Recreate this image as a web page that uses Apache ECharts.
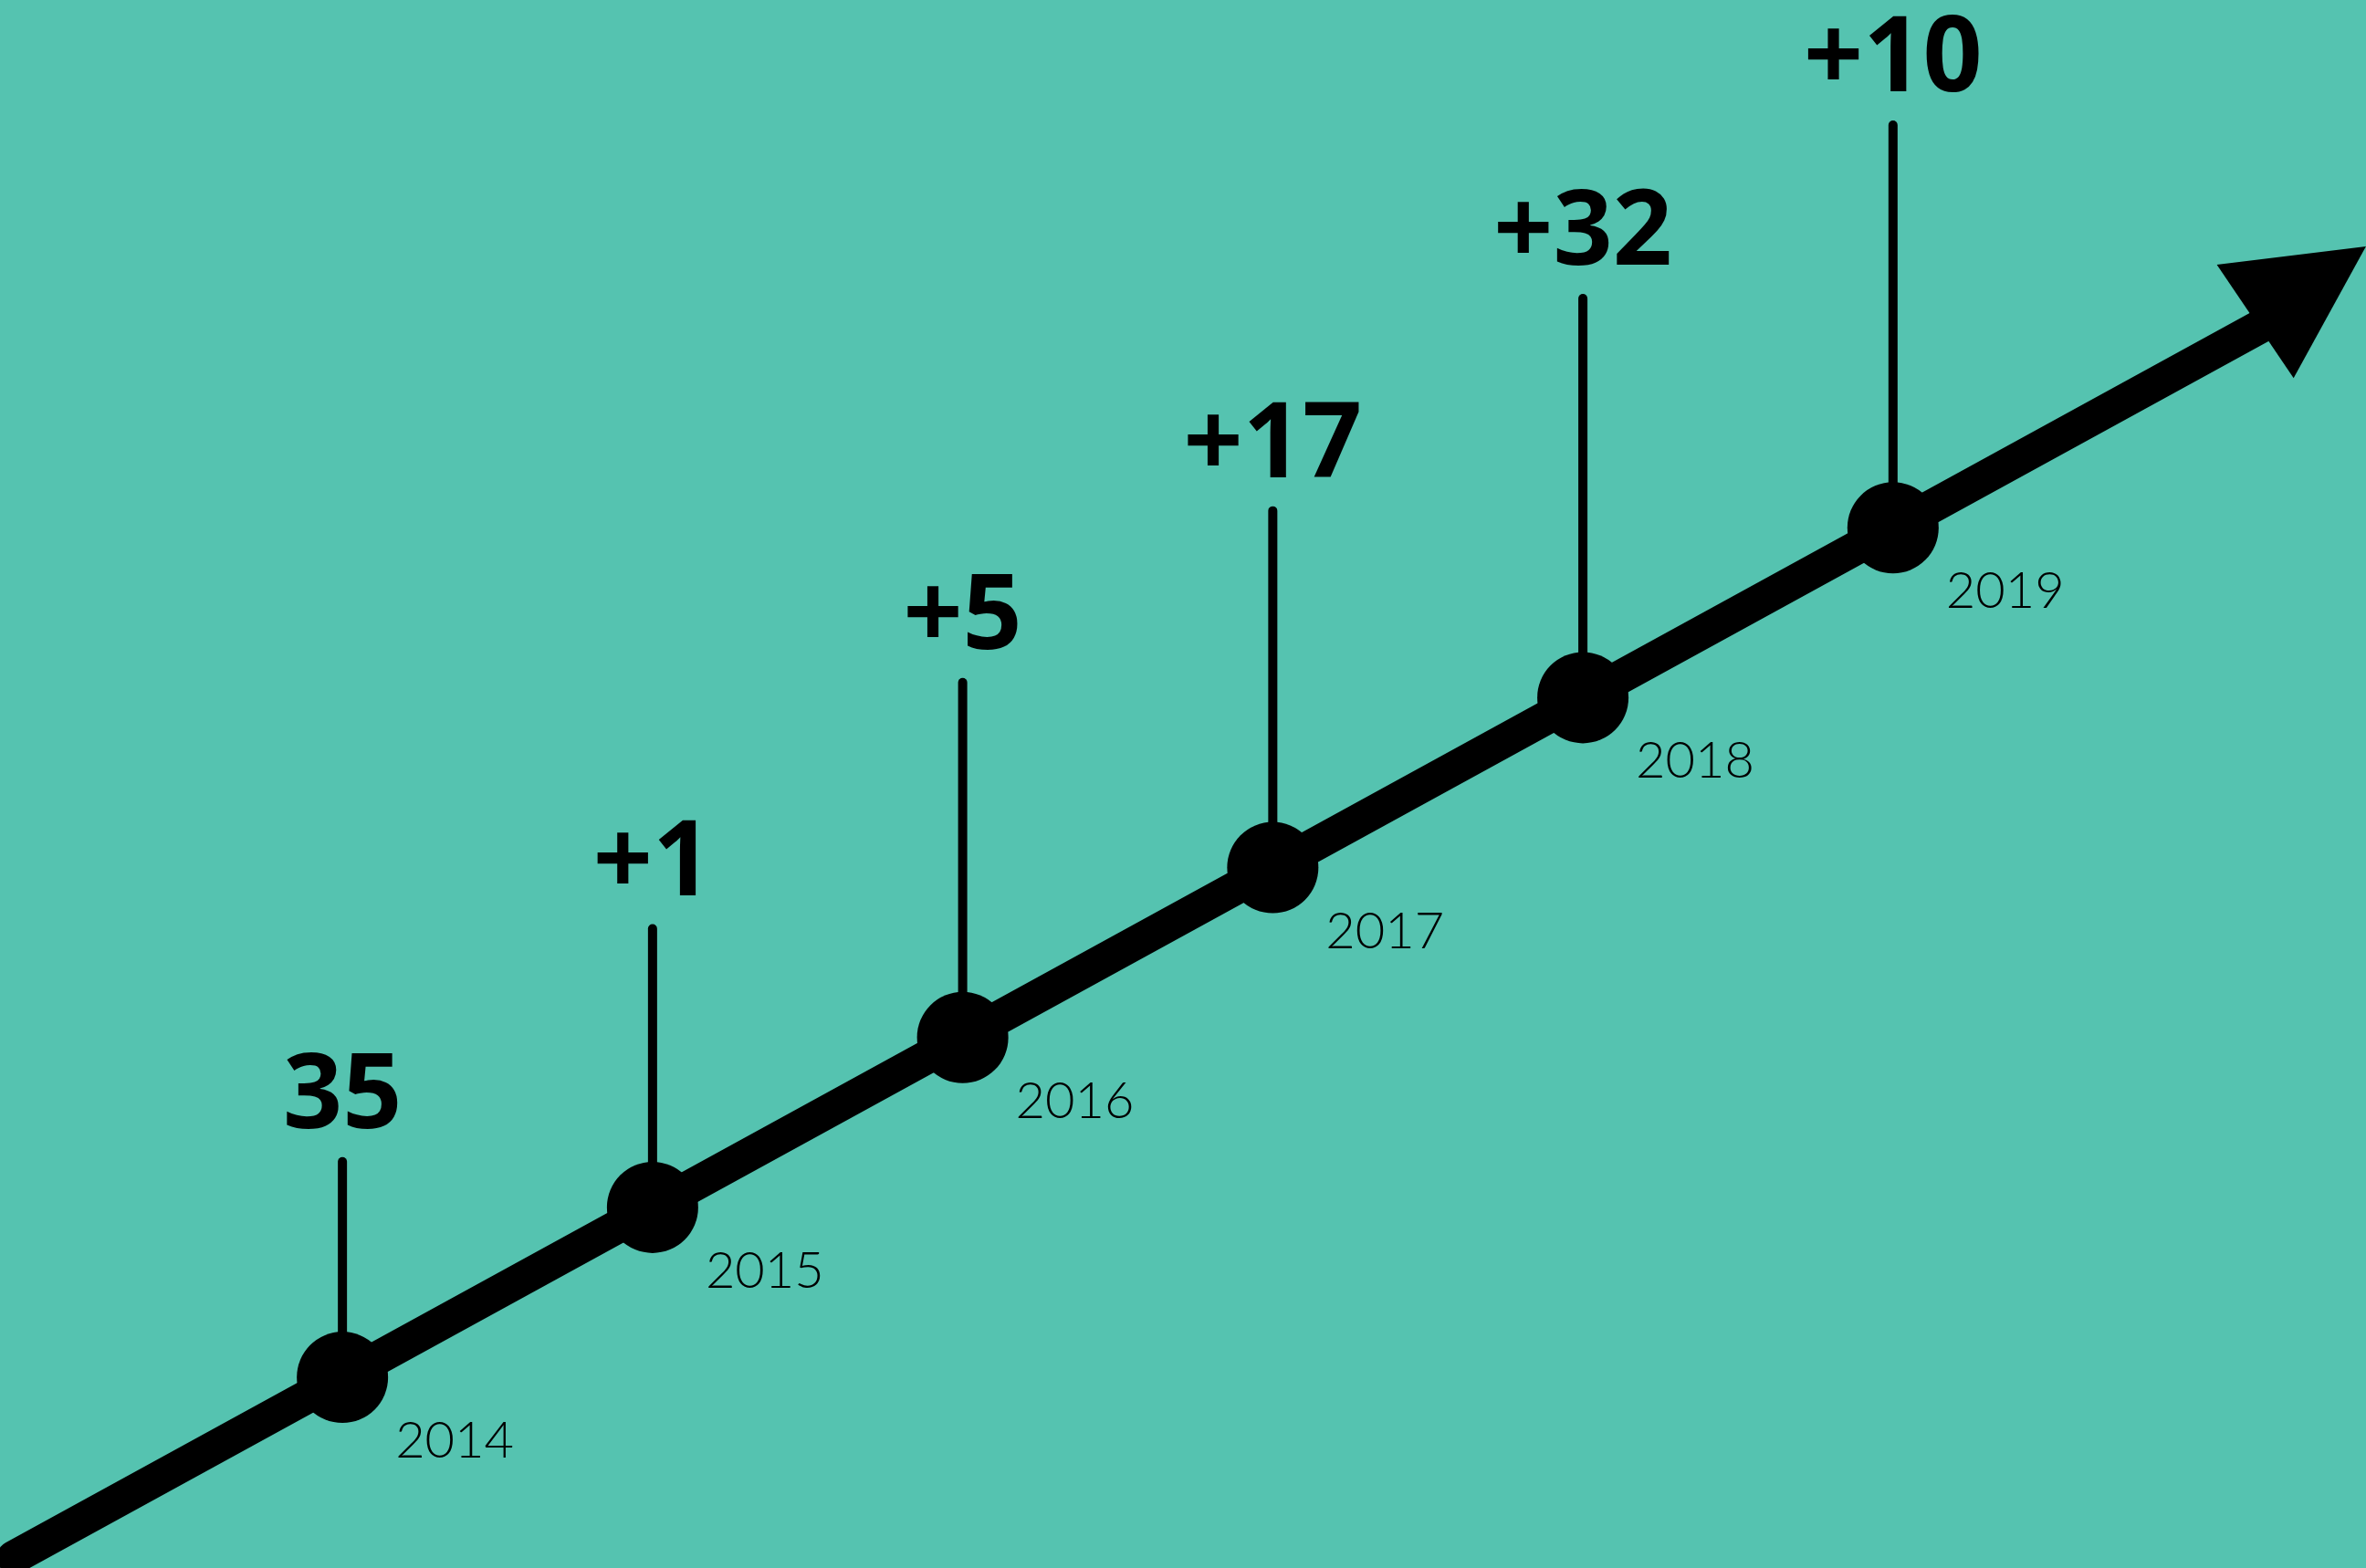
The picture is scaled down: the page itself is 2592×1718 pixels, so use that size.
<!DOCTYPE html>
<html><head><meta charset="utf-8">
<script src="https://cdn.jsdelivr.net/npm/echarts@6/dist/echarts.min.js"></script>
<style>html,body{margin:0;padding:0;background:#55c3b0}#c{width:2592px;height:1718px}</style>
</head><body><div id="c"></div>
<script>
// ---- data ----
const years = [2014, 2015, 2016, 2017, 2018, 2019];
const changeLabels = ['35', '+1', '+5', '+17', '+32', '+10'];
const dotLevel = [0, 1, 2, 3, 4, 5];
const stemTopLevel = [1.27, 2.64, 4.09, 5.10, 6.35, 7.37];
const timelineYears = [2012.94, 2020.25];
const timelineLevels = [-1.06, 6.25];
const arrowBase = [2020.168, 6.215];
const arrowTip = [2020.525, 6.656];

const chart = echarts.init(document.getElementById('c'), null, { renderer: 'canvas' });

const option = {
  backgroundColor: '#55c3b0',
  animation: false,
  grid: { left: 0, right: 0, top: 0, bottom: 0 },
  xAxis: { type: 'value', min: 2012.8958, max: 2020.5252, show: false },
  yAxis: { type: 'value', min: -1.1221, max: 8.1060, show: false },
  series: [
    {
      type: 'line',
      data: timelineYears.map((x, i) => [x, timelineLevels[i]]),
      symbol: 'none',
      silent: true,
      lineStyle: { color: '#000', width: 37, cap: 'round', opacity: 1 },
      z: 2
    },
    {
      type: 'custom',
      z: 3,
      silent: true,
      data: [[arrowBase[0], arrowBase[1], arrowTip[0], arrowTip[1]]],
      renderItem: function (params, api) {
        const b = api.coord([api.value(0), api.value(1)]);
        const t = api.coord([api.value(2), api.value(3)]);
        const dx = t[0] - b[0], dy = t[1] - b[1];
        const len = Math.sqrt(dx * dx + dy * dy);
        const px = -dy / len * 75, py = dx / len * 75;
        return {
          type: 'polygon',
          shape: { points: [t, [b[0] + px, b[1] + py], [b[0] - px, b[1] - py]] },
          style: { fill: '#000' }
        };
      }
    },
    {
      type: 'custom',
      z: 3,
      silent: true,
      data: years.map((y, i) => [y, dotLevel[i], stemTopLevel[i], i]),
      renderItem: function (params, api) {
        const base = api.coord([api.value(0), api.value(1)]);
        const top = api.coord([api.value(0), api.value(2)]);
        const i = api.value(3);
        return {
          type: 'group',
          children: [
            { type: 'line', shape: { x1: base[0], y1: base[1], x2: top[0], y2: top[1] },
              style: { stroke: '#000', lineWidth: 10, lineCap: 'round' } },
            { type: 'text', x: top[0], y: top[1] - 69,
              style: { text: changeLabels[i], fill: '#000', font: 'bold 114px "Open Sans"', align: 'center', verticalAlign: 'middle' } },
            { type: 'text', x: base[0] + 58, y: base[1] + 70,
              style: { text: String(years[i]), fill: '#000', font: '300 56px Lato', align: 'left', verticalAlign: 'middle' } }
          ]
        };
      }
    },
    {
      type: 'scatter',
      z: 4,
      silent: true,
      data: years.map((y, i) => [y, dotLevel[i]]),
      symbolSize: 100,
      itemStyle: { color: '#000', opacity: 1 }
    }
  ]
};
chart.setOption(option);
</script>
</body></html>
